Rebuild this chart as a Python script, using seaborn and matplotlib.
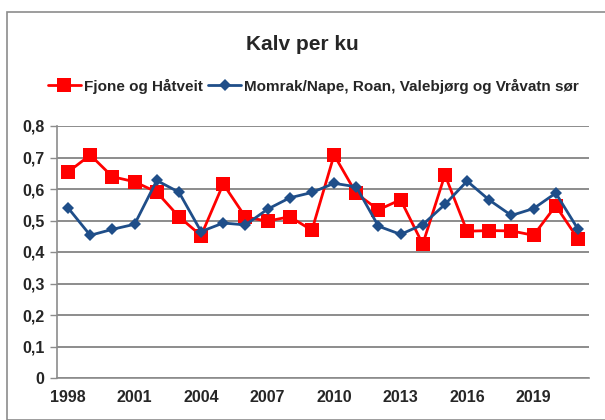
import matplotlib
matplotlib.use("Agg")
import matplotlib.pyplot as plt
from matplotlib.patches import Rectangle
from matplotlib.ticker import FixedLocator, FuncFormatter
import seaborn as sns
import pandas as pd

years = list(range(1998, 2022))
fjone = [0.654, 0.708, 0.639, 0.623, 0.590, 0.512, 0.452, 0.616, 0.511, 0.498,
         0.512, 0.469, 0.708, 0.586, 0.534, 0.566, 0.425, 0.645, 0.466, 0.468,
         0.467, 0.453, 0.547, 0.442]
momrak = [0.540, 0.453, 0.472, 0.488, 0.627, 0.590, 0.465, 0.492, 0.486, 0.536,
          0.572, 0.589, 0.618, 0.607, 0.482, 0.456, 0.487, 0.551, 0.625, 0.565,
          0.516, 0.538, 0.587, 0.473]
series_names = ["Fjone og Håtveit", "Momrak/Nape, Roan, Valebjørg og Vråvatn sør"]

sns.set_theme(style="white")
plt.rcParams['font.family'] = ['Liberation Sans', 'DejaVu Sans']

df = pd.DataFrame({"idx": range(len(years)), "year": years,
                   series_names[0]: fjone, series_names[1]: momrak})

fig = plt.figure(figsize=(6.05, 4.2), dpi=100)
ax = fig.add_axes([57 / 605, 1 - 378 / 420, (589 - 57) / 605, (378 - 126) / 420])

sns.lineplot(data=df, x="idx", y=series_names[0], ax=ax, color="#ff0000",
             marker="s", markersize=10, markeredgewidth=0, linewidth=2.0,
             label=series_names[0])
sns.lineplot(data=df, x="idx", y=series_names[1], ax=ax, color="#1f4e89",
             marker="D", markersize=6.5, markeredgewidth=0, linewidth=2.0,
             label=series_names[1])

ax.set_xlim(-0.5, len(years) - 0.5)
ax.set_ylim(0, 0.8)
ax.set_yticks([i / 10 for i in range(9)])
ax.yaxis.set_major_formatter(FuncFormatter(lambda v, p: "0" if v == 0 else f"{v:.1f}".replace(".", ",")))
ax.grid(axis="y", color="#8c8c8c", linewidth=1.4)
ax.set_axisbelow(True)

ax.set_xticks(list(range(0, len(years), 3)))
ax.set_xticklabels([str(years[i]) for i in range(0, len(years), 3)])
ax.xaxis.set_minor_locator(FixedLocator([i - 0.5 for i in range(len(years) + 1)]))
ax.tick_params(axis="x", which="major", length=0, pad=9, labelsize=11.5)
ax.tick_params(axis="x", which="minor", length=5, width=1, color="#8c8c8c", direction="out")
ax.tick_params(axis="y", which="major", length=5, width=1, color="#8c8c8c", direction="out",
               left=True, labelsize=11.5, pad=4)
for lab in ax.get_xticklabels() + ax.get_yticklabels():
    lab.set_fontweight("bold")

for s in ["top", "right"]:
    ax.spines[s].set_visible(False)
for s in ["left", "bottom"]:
    ax.spines[s].set_color("#8c8c8c")
    ax.spines[s].set_linewidth(1.2)
ax.set_xlabel("")
ax.set_ylabel("")

leg = ax.legend(loc="center", bbox_to_anchor=(0.518, 1 - 86 / 420), bbox_transform=fig.transFigure,
                ncol=2, frameon=False, handlelength=2.2, handletextpad=0.2,
                columnspacing=0.3, prop={"weight": "bold", "size": 11})

fig.text(0.5, 1 - 45 / 420, "Kalv per ku", ha="center", va="center",
         fontsize=15, fontweight="bold")

fig.patches.append(Rectangle((7 / 605, 0), 1, 1 - 12 / 420, transform=fig.transFigure,
                             fill=False, edgecolor="#8c8c8c", linewidth=1.2))

fig.savefig("out.png", dpi=100)
